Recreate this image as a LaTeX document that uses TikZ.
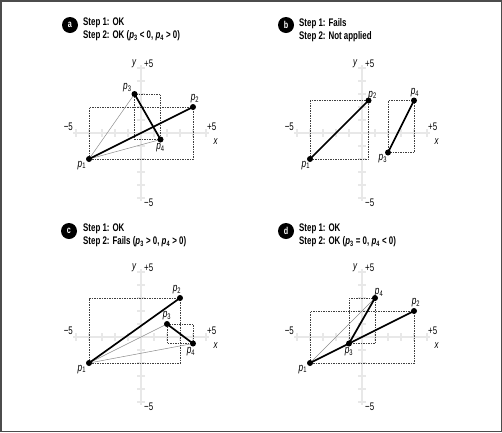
\documentclass[tikz,border=0pt]{standalone}
\usepackage{fontspec}
\setmainfont{Liberation Sans}[FakeStretch=0.72]
\usetikzlibrary{positioning}
\tikzset{
  frame/.style={draw=black!70, line width=1.5pt},
  axis/.style={draw=black!9, line width=2.4pt},
  tick/.style={draw=black!9, line width=1.3pt},
  dot/.style={circle, fill=black, inner sep=0pt, minimum size=6pt},
  seg/.style={line width=1.7pt},
  guide/.style={draw=black!45, line width=0.5pt},
  bbox/.style={draw=black!75, line width=0.6pt, dash pattern=on 1.5pt off 1pt},
  badge/.style={circle, fill=black, text=white, font=\bfseries\fontsize{10}{10}\selectfont, inner sep=0pt, minimum size=16pt},
  title/.style={font=\bfseries\fontsize{11}{13}\selectfont, align=left, anchor=north west, inner sep=0pt},
  lbl/.style={font=\fontsize{11}{12}\selectfont, inner sep=1pt},
  plbl/.style={font=\fontsize{11.5}{12}\selectfont, inner sep=0.5pt}
}
\newcommand\pp[1]{\textit{p}\textsubscript{#1}}
% axes of one panel, #1 = panel prefix
\newcommand\drawaxes[1]{%
  \draw[axis] (-5.2,0) -- (5.2,0);
  \draw[axis] (0,-5.2) -- (0,5.2);
  \foreach \t in {-5,-4,-3,-2,-1,1,2,3,4,5} {
    \draw[tick] (\t,-0.3) -- (\t,0.3);
    \draw[tick] (-0.3,\t) -- (0.3,\t);
  }
  \node[lbl, anchor=south east] (#1xmin) at (-5.15,0.12) {−5};
  \node[lbl, anchor=south west] (#1xmax) at (5.0,0.12) {+5};
  \node[lbl, anchor=north] (#1x) at (5.75,-0.35) {\textit{x}};
  \node[lbl, anchor=south east] (#1y) at (-0.25,4.95) {\textit{y}};
  \node[lbl, anchor=south west] (#1ymax) at (0.15,4.95) {+5};
  \node[lbl, anchor=north west] (#1ymin) at (0.15,-4.95) {−5};
}

\begin{document}
\begin{tikzpicture}[x=1pt, y=-1pt]
\useasboundingbox (0,0) rectangle (502,432);
\draw[frame] (0.75,0.75) rectangle (501.25,431.25);

% panel a
\node[badge] (abadge) at (70,25) {a};
\node[title] (atitle) at (83,18) {Step 1: OK\\Step 2: OK (\pp{3} < 0, \pp{4} > 0)};
\begin{scope}[shift={(141,133)}, x=13pt, y=13pt]
  \drawaxes{a}
  \coordinate (a1) at (-4,-2);
  \coordinate (a2) at (4,2);
  \coordinate (a3) at (-0.5,3);
  \coordinate (a4) at (1.5,-0.5);
  \draw[bbox] (a1) rectangle (a2);
  \draw[bbox] (a3) rectangle (a4);
  \draw[guide] (a1) -- (a3);
  \draw[guide] (a1) -- (a4);
  \draw[seg] (a1) -- (a2);
  \draw[seg] (a3) -- (a4);
  \node[dot] (a1d) at (a1) {};
  \node[dot] (a2d) at (a2) {};
  \node[dot] (a3d) at (a3) {};
  \node[dot] (a4d) at (a4) {};
  \node[plbl, below left=-1pt and 0pt of a1d] (a1l) {\pp{1}};
  \node[plbl, above=0pt of a2d, xshift=2pt] (a2l) {\pp{2}};
  \node[plbl, above left=-1pt and 0pt of a3d] (a3l) {\pp{3}};
  \node[plbl, below=0pt of a4d] (a4l) {\pp{4}};
\end{scope}

% panel b
\node[badge] (bbadge) at (286,25) {b};
\node[title] (btitle) at (299,18) {Step 1: Fails\\Step 2: Not applied};
\begin{scope}[shift={(362,133)}, x=13pt, y=13pt]
  \drawaxes{b}
  \coordinate (b1) at (-4,-2);
  \coordinate (b2) at (0.5,2.5);
  \coordinate (b3) at (2,-1.5);
  \coordinate (b4) at (4,2.5);
  \draw[bbox] (b1) rectangle (b2);
  \draw[bbox] (b3) rectangle (b4);
  \draw[seg] (b1) -- (b2);
  \draw[seg] (b3) -- (b4);
  \node[dot] (b1d) at (b1) {};
  \node[dot] (b2d) at (b2) {};
  \node[dot] (b3d) at (b3) {};
  \node[dot] (b4d) at (b4) {};
  \node[plbl, below left=-1pt and -3pt of b1d] (b1l) {\pp{1}};
  \node[plbl, above right=-2pt and -3pt of b2d] (b2l) {\pp{2}};
  \node[plbl, below left=-1pt and -2pt of b3d] (b3l) {\pp{3}};
  \node[plbl, above=0pt of b4d, xshift=1pt] (b4l) {\pp{4}};
\end{scope}

% panel c
\node[badge] (cbadge) at (69,231) {c};
\node[title] (ctitle) at (83,224) {Step 1: OK\\Step 2: Fails (\pp{3} > 0, \pp{4} > 0)};
\begin{scope}[shift={(141,337)}, x=13pt, y=13pt]
  \drawaxes{c}
  \coordinate (c1) at (-4,-2);
  \coordinate (c2) at (3,3);
  \coordinate (c3) at (2,1);
  \coordinate (c4) at (4,-0.5);
  \draw[bbox] (c1) rectangle (c2);
  \draw[bbox] (c3) rectangle (c4);
  \draw[guide] (c1) -- (c3);
  \draw[guide] (c1) -- (c4);
  \draw[seg] (c1) -- (c2);
  \draw[seg] (c3) -- (c4);
  \node[dot] (c1d) at (c1) {};
  \node[dot] (c2d) at (c2) {};
  \node[dot] (c3d) at (c3) {};
  \node[dot] (c4d) at (c4) {};
  \node[plbl, below left=-1pt and 0pt of c1d] (c1l) {\pp{1}};
  \node[plbl, above=0pt of c2d, xshift=-3pt] (c2l) {\pp{2}};
  \node[plbl, above=0pt of c3d] (c3l) {\pp{3}};
  \node[plbl, below=0pt of c4d, xshift=-2pt] (c4l) {\pp{4}};
\end{scope}

% panel d
\node[badge] (dbadge) at (286,231) {d};
\node[title] (dtitle) at (299,224) {Step 1: OK\\Step 2: OK (\pp{3} = 0, \pp{4} < 0)};
\begin{scope}[shift={(362,337)}, x=13pt, y=13pt]
  \drawaxes{d}
  \coordinate (d1) at (-4,-2);
  \coordinate (d2) at (4,2);
  \coordinate (d3) at (-1,-0.5);
  \coordinate (d4) at (1,3);
  \draw[bbox] (d1) rectangle (d2);
  \draw[bbox] (d3) rectangle (d4);
  \draw[guide] (d1) -- (d4);
  \draw[seg] (d1) -- (d2);
  \draw[seg] (d3) -- (d4);
  \node[dot] (d1d) at (d1) {};
  \node[dot] (d2d) at (d2) {};
  \node[dot] (d3d) at (d3) {};
  \node[dot] (d4d) at (d4) {};
  \node[plbl, below left=-1pt and 0pt of d1d] (d1l) {\pp{1}};
  \node[plbl, above=0pt of d2d, xshift=2pt] (d2l) {\pp{2}};
  \node[plbl, below=0pt of d3d] (d3l) {\pp{3}};
  \node[plbl, above right=-2pt and -3pt of d4d] (d4l) {\pp{4}};
\end{scope}
\end{tikzpicture}
\end{document}
